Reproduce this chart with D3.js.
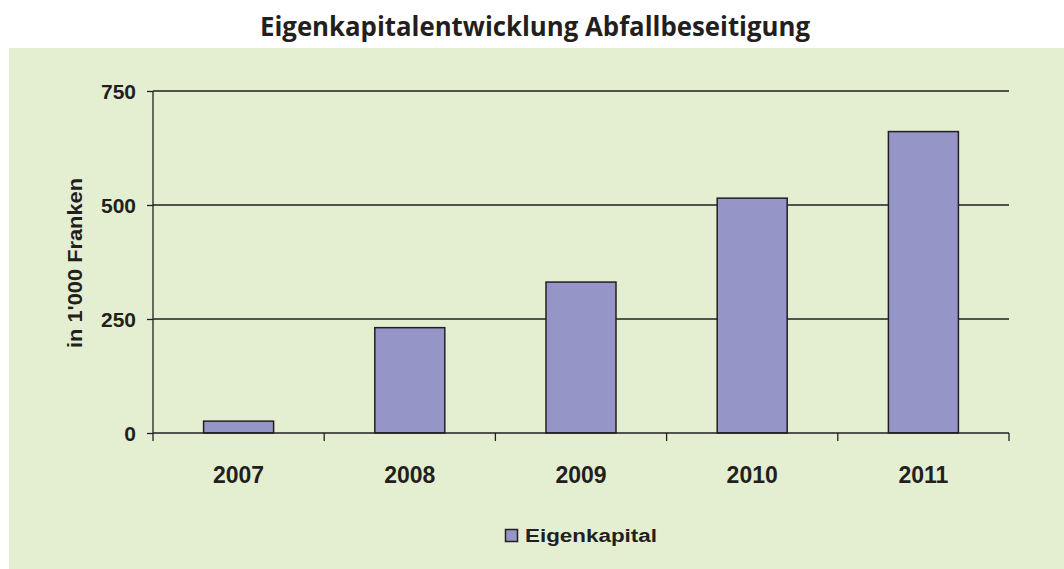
<!DOCTYPE html>
<html><head><meta charset="utf-8">
<script src="https://cdn.jsdelivr.net/npm/d3@7"></script>
<style>html,body{margin:0;padding:0;background:#fff;}svg{display:block;}</style>
</head><body>
<svg id="chart" width="1064" height="569"></svg>
<script>
const categories = ["2007", "2008", "2009", "2010", "2011"];
const eigenkapital = [26, 231, 331, 515, 661];
const yTicks = [0, 250, 500, 750];
const seriesName = "Eigenkapital";
const titleText = "Eigenkapitalentwicklung Abfallbeseitigung";
const yTitle = "in 1'000 Franken";

const svg = d3.select("#chart");
const W = 1064, H = 569;
const m = {left: 153, right: 1009, top: 91, bottom: 433};

svg.append("rect").attr("x", 9).attr("y", 48).attr("width", W - 9).attr("height", H - 48).attr("fill", "#e4efd2");

svg.append("text").attr("x", 535).attr("y", 36).attr("text-anchor", "middle")
  .attr("font-family", "'Open Sans', sans-serif").attr("font-weight", 700).attr("font-size", 26)
  .attr("fill", "#231f20").text(titleText)
  .attr("textLength", 550).attr("lengthAdjust", "spacingAndGlyphs");

const xb = d3.scaleBand().domain(categories).range([m.left, m.right]);
const y = d3.scaleLinear().domain([0, 750]).range([m.bottom, m.top]);

// gridlines
svg.append("g").selectAll("line").data(yTicks.filter(d => d > 0)).join("line")
  .attr("x1", m.left).attr("x2", m.right).attr("y1", d => y(d)).attr("y2", d => y(d))
  .attr("stroke", "#231f20").attr("stroke-width", 1.3);

// bars
svg.append("g").selectAll("rect").data(categories).join("rect")
  .attr("x", d => xb(d) + xb.bandwidth() / 2 - 35)
  .attr("width", 70)
  .attr("y", (d, i) => y(eigenkapital[i]))
  .attr("height", (d, i) => y(0) - y(eigenkapital[i]))
  .attr("fill", "#9595c7").attr("stroke", "#231f20").attr("stroke-width", 1.5);

// y axis
const yAxis = d3.axisLeft(y).tickValues(yTicks).tickSize(6).tickPadding(11).tickFormat(d3.format("d"));
const gy = svg.append("g").attr("transform", `translate(${m.left},0)`).call(yAxis);
gy.select(".domain").attr("stroke", "#231f20").attr("stroke-width", 1.3).attr("d", `M0,${m.top}V${m.bottom}`);
gy.selectAll(".tick line").attr("stroke", "#231f20").attr("stroke-width", 1.3);
gy.selectAll(".tick text").attr("font-family", "'Liberation Sans', Arial, sans-serif").attr("font-weight", "bold")
  .attr("font-size", 21).attr("fill", "#231f20").attr("dy", "0.35em");

// x axis
const gx = svg.append("g").attr("transform", `translate(0,${m.bottom})`);
gx.append("line").attr("x1", m.left).attr("x2", m.right).attr("stroke", "#231f20").attr("stroke-width", 1.5);
const bounds = categories.map(c => xb(c)).concat([m.right]);
gx.selectAll("line.tk").data(bounds).join("line").attr("class", "tk")
  .attr("x1", d => d).attr("x2", d => d).attr("y1", 0).attr("y2", 8)
  .attr("stroke", "#231f20").attr("stroke-width", 1.3);
gx.selectAll("text").data(categories).join("text")
  .attr("x", d => xb(d) + xb.bandwidth() / 2).attr("y", 50).attr("text-anchor", "middle")
  .attr("font-family", "'Liberation Sans', Arial, sans-serif").attr("font-weight", "bold")
  .attr("font-size", 23).attr("fill", "#231f20").text(d => d);

// y title
svg.append("text").attr("transform", "translate(82,263) rotate(-90)").attr("text-anchor", "middle")
  .attr("font-family", "'Liberation Sans', Arial, sans-serif").attr("font-weight", "bold")
  .attr("font-size", 21).attr("fill", "#231f20").text(yTitle)
  .attr("textLength", 170).attr("lengthAdjust", "spacingAndGlyphs");

// legend
const lg = svg.append("g");
lg.append("rect").attr("x", 505.5).attr("y", 529.5).attr("width", 12).attr("height", 12)
  .attr("fill", "#9595c7").attr("stroke", "#231f20").attr("stroke-width", 1.5);
lg.append("text").attr("x", 525).attr("y", 542)
  .attr("font-family", "'Liberation Sans', Arial, sans-serif").attr("font-weight", "bold")
  .attr("font-size", 18).attr("fill", "#231f20").text(seriesName)
  .attr("textLength", 132).attr("lengthAdjust", "spacingAndGlyphs");
</script>
</body></html>
